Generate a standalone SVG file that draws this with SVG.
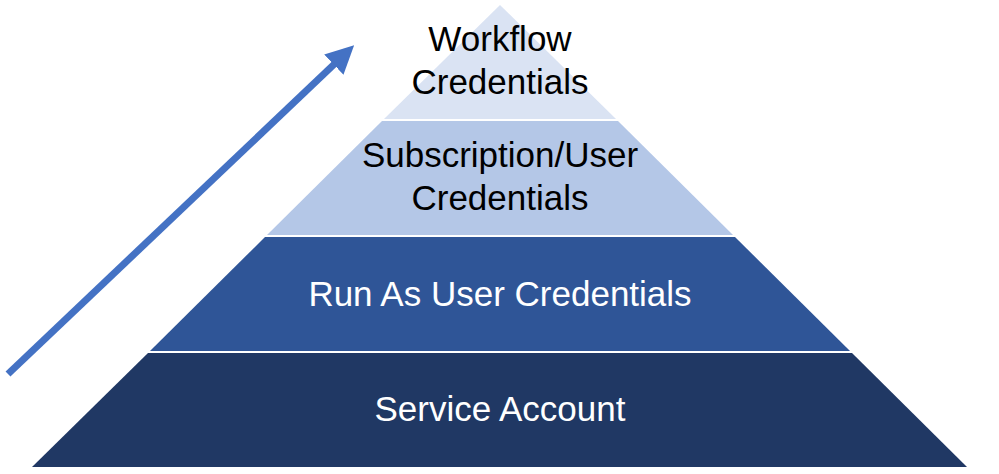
<svg xmlns="http://www.w3.org/2000/svg" width="999" height="474" viewBox="0 0 999 474">
<style>
.t{font-family:"Liberation Sans",Arial,sans-serif;font-size:35px;text-anchor:middle;}
.dark{fill:#000000;}
.light{fill:#FFFFFF;}
</style>
<defs>
<marker id="ah" viewBox="0 0 10 10" refX="6" refY="5" markerWidth="4" markerHeight="4" orient="auto" markerUnits="strokeWidth">
<path d="M0,0 L10,5 L0,10 Z" fill="#4472C4"/>
</marker>
</defs>
<rect width="999" height="474" fill="#FFFFFF"/>
<g id="tier1">
<polygon points="500,5 384,119 616,119" fill="#DAE3F3"/>
<text class="t dark" x="500" y="51">Workflow</text>
<text class="t dark" x="500" y="94">Credentials</text>
</g>
<g id="tier2">
<polygon points="382,121 618,121 733,235 267,235" fill="#B4C7E7"/>
<text class="t dark" x="500" y="167">Subscription/User</text>
<text class="t dark" x="500" y="210">Credentials</text>
</g>
<g id="tier3">
<polygon points="265,237 735,237 850,351 150,351" fill="#2F5597"/>
<text class="t light" x="500" y="306">Run As User Credentials</text>
</g>
<g id="tier4">
<polygon points="148,353 852,353 967,467 32,467" fill="#203864"/>
<text class="t light" x="500" y="421">Service Account</text>
</g>
<g id="connectors">
<line x1="8" y1="374" x2="346" y2="53" stroke="#4472C4" stroke-width="7" marker-end="url(#ah)"/>
</g>
</svg>
